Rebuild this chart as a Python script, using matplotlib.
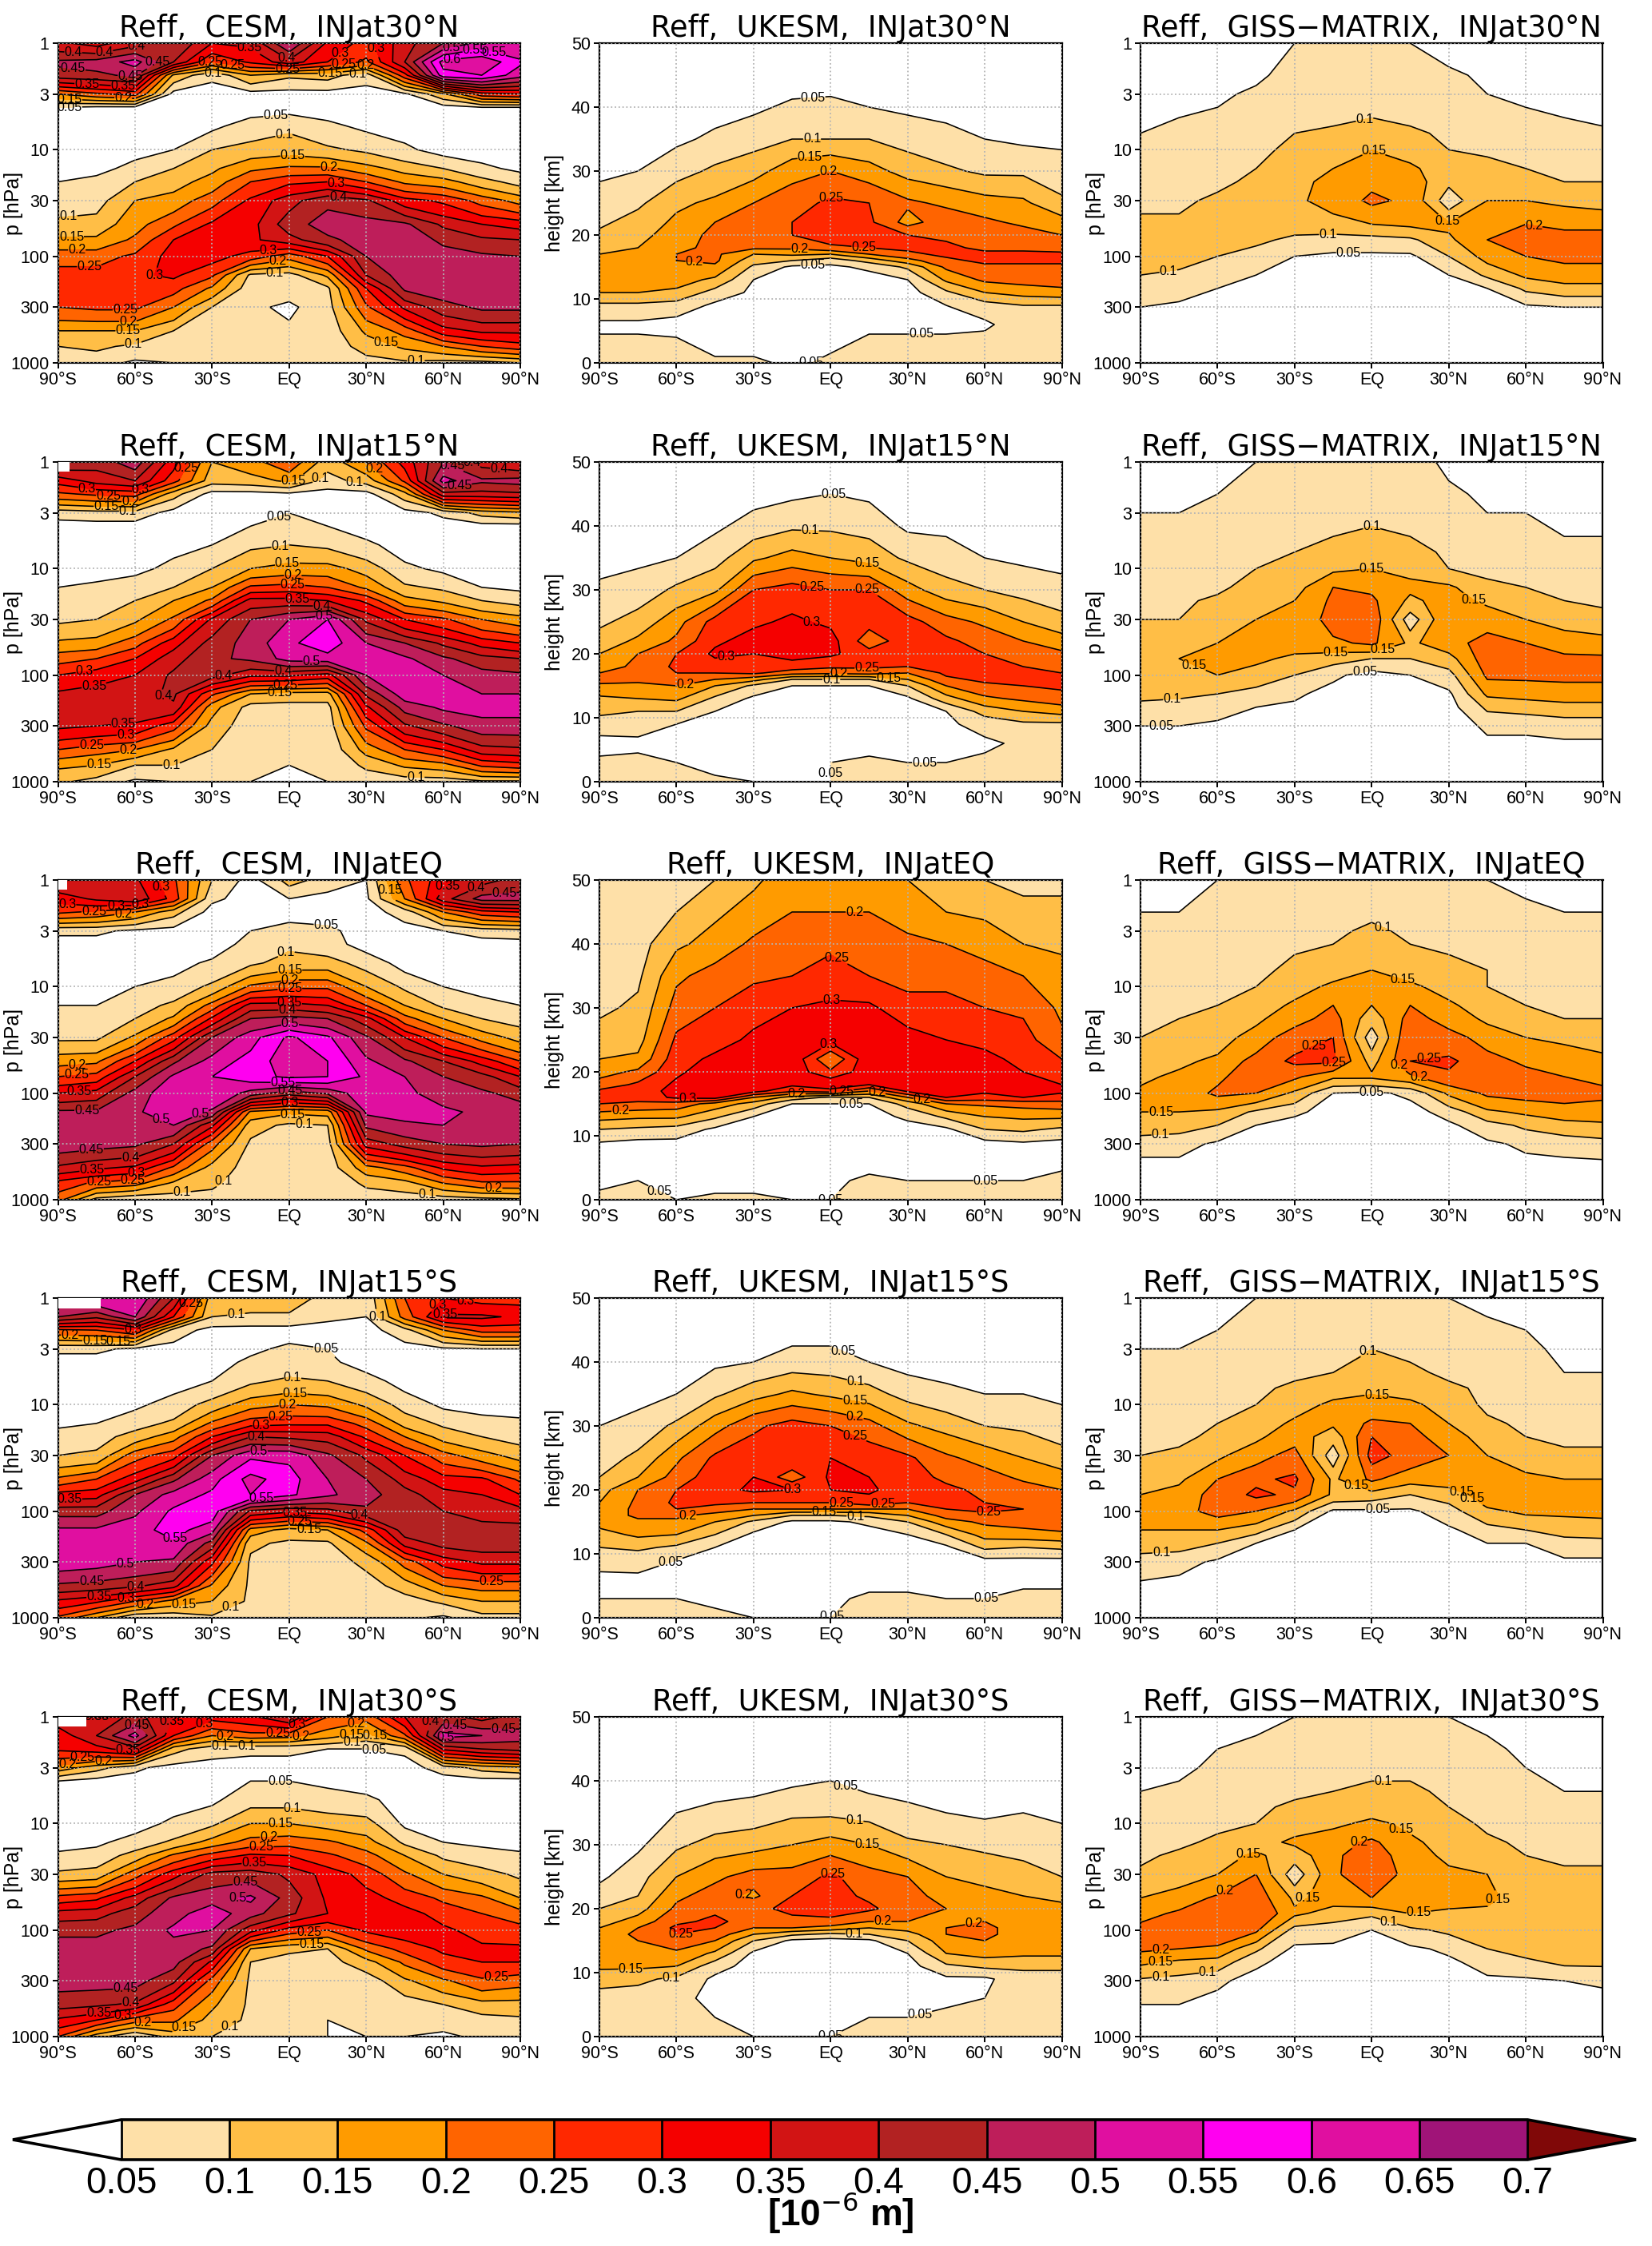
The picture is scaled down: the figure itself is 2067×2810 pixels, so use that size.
# -*- coding: utf-8 -*-
# zonal mean effective radius, 3 models x 5 injection latitudes
import numpy as np
import matplotlib
matplotlib.use('Agg')
import matplotlib.pyplot as plt
from matplotlib.colors import ListedColormap, BoundaryNorm
from matplotlib.patches import Rectangle

plt.rcParams['font.family'] = ['Liberation Sans', 'DejaVu Sans']

#%% axes values
lats = [-90, -75, -60, -45, -30, -15, 0, 15, 30, 45, 60, 75, 90]
p_cesm = [1, 1.5, 2, 3, 4, 6, 10, 15, 20, 30, 50, 70, 100, 150, 200, 300, 500, 700, 1000]
p_giss = [1, 2, 3, 5, 7, 10, 15, 20, 30, 50, 70, 100, 150, 200, 300, 500, 1000]
z_ukesm = [0, 3, 6, 9, 11, 13, 15, 16, 17, 18, 20, 22, 25, 30, 35, 40, 45, 50]

levels = [0.05, 0.1, 0.15, 0.2, 0.25, 0.3, 0.35, 0.4, 0.45, 0.5, 0.55, 0.6, 0.65, 0.7]
colors = ['#FEE0A8', '#FFBE46', '#FF9B00', '#FF6400', '#FF2800', '#F50000', '#D21414',
          '#B22222', '#BE1E5A', '#E00FA0', '#FF00F0', '#E00FA0', '#A01478']
injections = ['30°N', '15°N', 'EQ', '15°S', '30°S']
lat_ticks = [-90, -60, -30, 0, 30, 60, 90]
lat_labels = ['90°S', '60°S', '30°S', 'EQ', '30°N', '60°N', '90°N']
p_ticks = [1, 3, 10, 30, 100, 300, 1000]
z_ticks = [0, 10, 20, 30, 40, 50]

#%% Reff, one line per latitude, in 0.01 x 10^-6 m
cesm_30n = [
    [36, 46, 43, 20, 5, 3, 3, 4, 5, 8, 11, 16, 23, 27, 27, 25, 15, 10, 7],
    [33, 47, 44, 24, 4, 2, 3, 4, 6, 8, 12, 16, 23, 27, 28, 26, 15, 11, 7],
    [38, 52, 46, 27, 4, 3, 4, 6, 10, 15, 18, 21, 26, 29, 29, 26, 15, 9, 4],
    [45, 40, 14, 3, 2, 3, 5, 10, 13, 17, 24, 30, 32, 31, 27, 20, 10, 7, 5],
    [35, 25, 6, 3, 2, 4, 10, 14, 17, 23, 31, 33, 32, 26, 19, 10, 7, 6, 6],
    [36, 31, 15, 3, 3, 7, 12, 19, 25, 31, 33, 34, 28, 9, 7, 6, 6, 6, 5],
    [50, 38, 11, 3, 3, 9, 13, 21, 29, 38, 43, 38, 22, 8, 7, 4, 6, 6, 5],
    [34, 30, 12, 3, 3, 6, 11, 21, 30, 44, 47, 44, 30, 16, 9, 8, 7, 7, 6],
    [28, 24, 7, 3, 3, 4, 9, 17, 25, 41, 47, 47, 45, 40, 30, 24, 16, 12, 8],
    [38, 40, 28, 4, 3, 3, 6, 13, 19, 32, 46, 48, 48, 48, 46, 36, 22, 16, 9],
    [45, 62, 58, 14, 3, 3, 3, 10, 17, 29, 39, 44, 47, 48, 48, 43, 33, 20, 8],
    [52, 64, 60, 28, 5, 3, 3, 6, 12, 23, 35, 41, 46, 48, 48, 46, 36, 25, 8],
    [50, 56, 52, 30, 5, 3, 3, 4, 8, 18, 33, 40, 45, 48, 48, 46, 36, 28, 10],
]
cesm_15n = [
    [45, 32, 24, 7, 3, 3, 3, 5, 7, 9, 16, 23, 30, 36, 37, 36, 25, 16, 11],
    [42, 37, 26, 8, 3, 3, 3, 6, 8, 10, 17, 25, 33, 37, 38, 35, 22, 15, 8],
    [48, 40, 27, 8, 3, 3, 4, 7, 10, 14, 23, 30, 35, 38, 39, 34, 20, 10, 4],
    [32, 27, 12, 3, 3, 4, 6, 10, 15, 21, 33, 38, 41, 41, 39, 27, 14, 10, 5],
    [15, 12, 3, 2, 2, 5, 10, 15, 21, 36, 42, 44, 42, 26, 17, 13, 10, 8, 6],
    [18, 13, 3, 3, 5, 9, 15, 26, 37, 45, 47, 46, 36, 15, 8, 7, 6, 6, 5],
    [24, 16, 4, 5, 6, 10, 17, 27, 37, 50, 54, 52, 36, 13, 8, 7, 6, 5, 5],
    [12, 8, 3, 2, 5, 9, 17, 25, 35, 55, 58, 53, 33, 13, 8, 7, 6, 6, 5],
    [20, 12, 3, 2, 3, 6, 13, 19, 29, 39, 50, 52, 50, 41, 34, 26, 17, 11, 7],
    [32, 26, 13, 3, 3, 3, 6, 11, 17, 30, 45, 51, 52, 53, 47, 39, 25, 16, 7],
    [45, 52, 38, 6, 3, 3, 4, 9, 14, 26, 39, 46, 50, 52, 51, 44, 30, 18, 7],
    [38, 46, 38, 12, 3, 3, 3, 5, 10, 20, 33, 42, 47, 50, 52, 48, 38, 26, 9],
    [35, 47, 39, 14, 3, 3, 3, 4, 8, 17, 30, 40, 46, 50, 52, 48, 39, 28, 9],
]
cesm_eq = [
    [40, 32, 26, 6, 3, 3, 3, 5, 7, 9, 18, 25, 35, 46, 48, 48, 39, 28, 22],
    [38, 36, 24, 6, 3, 3, 3, 5, 7, 9, 19, 27, 37, 46, 48, 47, 36, 24, 8],
    [36, 39, 20, 4, 3, 3, 5, 8, 10, 16, 30, 40, 47, 49, 49, 46, 34, 22, 5],
    [26, 28, 12, 3, 3, 3, 7, 11, 16, 28, 44, 51, 54, 54, 50, 40, 24, 14, 7],
    [10, 6, 3, 2, 2, 6, 11, 22, 31, 45, 52, 55, 55, 49, 36, 22, 13, 11, 8],
    [3, 3, 3, 5, 7, 9, 21, 37, 45, 53, 57, 58, 48, 19, 12, 9, 8, 7, 6],
    [12, 5, 3, 7, 9, 12, 24, 37, 47, 61, 63, 61, 42, 16, 9, 8, 7, 7, 6],
    [8, 3, 3, 6, 7, 12, 24, 35, 45, 56, 60, 60, 46, 17, 10, 8, 7, 6, 5],
    [5, 4, 3, 3, 3, 8, 15, 25, 37, 46, 51, 54, 54, 51, 46, 37, 18, 11, 7],
    [24, 20, 7, 3, 3, 3, 9, 15, 22, 35, 46, 50, 51, 52, 49, 42, 23, 13, 7],
    [33, 38, 20, 5, 3, 3, 5, 9, 15, 25, 40, 45, 48, 51, 50, 45, 31, 20, 7],
    [38, 47, 28, 7, 3, 3, 4, 6, 10, 18, 33, 42, 46, 49, 50, 46, 34, 24, 8],
    [42, 47, 30, 8, 3, 3, 3, 5, 8, 13, 25, 35, 43, 48, 50, 45, 33, 24, 9],
]
cesm_15s = [
    [50, 45, 24, 6, 3, 3, 3, 4, 7, 10, 21, 32, 43, 51, 53, 53, 44, 34, 24],
    [55, 41, 25, 6, 3, 3, 3, 5, 8, 11, 25, 33, 43, 51, 53, 52, 43, 31, 15],
    [55, 50, 30, 4, 3, 3, 4, 8, 12, 23, 33, 45, 49, 53, 54, 50, 41, 25, 5],
    [40, 30, 8, 3, 3, 3, 7, 11, 18, 28, 44, 52, 56, 57, 54, 49, 37, 18, 6],
    [12, 10, 3, 2, 3, 5, 12, 21, 30, 45, 53, 56, 58, 52, 43, 31, 19, 15, 9],
    [13, 9, 3, 4, 6, 9, 18, 28, 40, 54, 62, 60, 39, 18, 11, 9, 9, 9, 7],
    [13, 9, 3, 6, 7, 11, 20, 29, 39, 54, 57, 56, 36, 13, 9, 8, 7, 7, 6],
    [8, 6, 3, 5, 6, 10, 19, 29, 38, 46, 50, 51, 38, 15, 9, 8, 7, 6, 5],
    [6, 5, 3, 3, 3, 7, 14, 23, 29, 39, 45, 47, 44, 27, 19, 11, 8, 7, 6],
    [25, 22, 8, 3, 3, 3, 8, 13, 20, 30, 38, 42, 43, 43, 37, 22, 12, 8, 6],
    [30, 36, 20, 4, 3, 3, 4, 9, 13, 22, 32, 37, 40, 43, 42, 32, 20, 11, 4],
    [28, 36, 27, 5, 3, 3, 3, 7, 10, 17, 31, 35, 38, 42, 43, 36, 22, 15, 8],
    [28, 34, 27, 5, 3, 3, 3, 6, 8, 13, 24, 30, 37, 42, 43, 36, 22, 15, 8],
]
cesm_30s = [
    [38, 32, 31, 18, 5, 3, 3, 3, 6, 11, 27, 37, 44, 47, 47, 47, 42, 34, 25],
    [35, 40, 33, 12, 3, 3, 3, 4, 7, 12, 29, 38, 44, 47, 47, 47, 41, 30, 12],
    [42, 52, 38, 6, 3, 3, 3, 7, 12, 23, 37, 43, 46, 47, 47, 47, 39, 22, 5],
    [35, 30, 12, 3, 3, 3, 6, 11, 21, 33, 46, 48, 51, 48, 47, 41, 27, 21, 12],
    [32, 20, 7, 3, 3, 4, 9, 17, 27, 42, 48, 53, 50, 44, 34, 23, 16, 13, 10],
    [34, 23, 6, 3, 5, 8, 15, 22, 31, 43, 51, 47, 37, 15, 10, 9, 9, 9, 7],
    [40, 22, 6, 3, 5, 8, 15, 23, 30, 39, 43, 41, 28, 11, 8, 7, 7, 6, 6],
    [25, 17, 5, 3, 4, 7, 13, 21, 26, 33, 34, 35, 25, 10, 8, 7, 6, 5, 5],
    [22, 13, 5, 3, 3, 6, 12, 17, 22, 28, 32, 33, 31, 21, 13, 7, 6, 6, 5],
    [35, 24, 6, 3, 3, 3, 4, 9, 15, 21, 28, 32, 33, 27, 21, 14, 7, 6, 5],
    [42, 52, 36, 7, 3, 3, 3, 5, 9, 15, 24, 28, 31, 31, 28, 19, 10, 7, 4],
    [38, 50, 40, 12, 3, 3, 3, 4, 7, 12, 21, 25, 28, 31, 30, 24, 13, 8, 6],
    [42, 47, 42, 14, 3, 3, 3, 3, 6, 9, 15, 22, 27, 31, 30, 22, 13, 9, 8],
]

ukesm_30n = [
    [7, 6, 4, 9, 15, 17, 17, 17, 15, 14, 11, 9, 7, 4, 3, 2, 2, 2],
    [8, 6, 4, 9, 15, 17, 18, 18, 17, 15, 13, 12, 9, 5, 3, 2, 2, 2],
    [7, 6, 3, 8, 14, 17, 19, 20, 20, 19, 18, 16, 14, 8, 4, 3, 2, 2],
    [6, 3, 3, 4, 8, 14, 19, 21, 21, 21, 21, 20, 16, 11, 6, 3, 2, 2],
    [6, 3, 3, 3, 4, 5, 9, 12, 15, 21, 22, 23, 20, 13, 8, 4, 2, 2],
    [4, 3, 3, 3, 3, 3, 4, 10, 16, 21, 25, 25, 23, 18, 10, 6, 2, 2],
    [6, 4, 3, 3, 3, 3, 4, 7, 15, 24, 28, 28, 26, 20, 10, 6, 3, 2],
    [8, 6, 4, 3, 3, 3, 6, 12, 20, 25, 27, 26, 25, 17, 10, 5, 3, 2],
    [8, 6, 4, 3, 3, 5, 11, 18, 24, 26, 25, 18, 21, 13, 8, 4, 2, 2],
    [8, 6, 4, 5, 9, 16, 21, 24, 26, 26, 24, 23, 19, 11, 6, 4, 3, 2],
    [8, 7, 4, 8, 15, 21, 24, 26, 26, 24, 23, 21, 17, 9, 5, 3, 2, 2],
    [8, 8, 8, 10, 17, 22, 24, 26, 26, 24, 22, 19, 16, 9, 4, 3, 2, 2],
    [8, 8, 8, 10, 18, 23, 24, 26, 26, 23, 20, 17, 11, 7, 4, 3, 2, 2],
]
ukesm_15n = [
    [7, 6, 3, 8, 11, 14, 19, 22, 20, 18, 15, 12, 9, 6, 3, 2, 2, 2],
    [7, 6, 4, 7, 10, 15, 19, 21, 21, 21, 20, 16, 12, 7, 4, 2, 2, 2],
    [6, 5, 3, 5, 10, 16, 20, 22, 25, 26, 25, 21, 18, 11, 5, 3, 2, 2],
    [6, 3, 3, 3, 5, 9, 15, 20, 25, 28, 31, 29, 27, 14, 8, 4, 2, 2],
    [5, 3, 3, 3, 3, 4, 9, 17, 26, 28, 30, 32, 29, 25, 14, 7, 3, 2],
    [4, 3, 3, 3, 3, 3, 5, 10, 22, 28, 32, 33, 31, 27, 17, 9, 4, 2],
    [5, 5, 3, 3, 3, 3, 5, 10, 21, 26, 31, 32, 29, 25, 15, 9, 5, 3],
    [7, 6, 3, 3, 3, 3, 5, 10, 22, 26, 27, 22, 27, 25, 13, 8, 4, 2],
    [7, 5, 4, 3, 3, 4, 10, 15, 20, 25, 28, 28, 27, 17, 9, 4, 2, 2],
    [7, 5, 4, 4, 5, 13, 20, 24, 26, 27, 27, 26, 22, 12, 7, 4, 2, 2],
    [7, 6, 4, 7, 12, 19, 24, 26, 27, 27, 25, 23, 19, 10, 5, 3, 2, 2],
    [7, 7, 6, 9, 15, 21, 25, 26, 26, 25, 23, 20, 15, 8, 4, 3, 2, 2],
    [7, 7, 7, 9, 17, 23, 26, 26, 25, 23, 21, 17, 12, 6, 4, 3, 2, 2],
]
ukesm_eq = [
    [6, 4, 3, 5, 10, 17, 25, 27, 26, 22, 18, 15, 12, 9, 8, 7, 6, 6],
    [7, 5, 3, 4, 9, 16, 24, 27, 27, 26, 21, 16, 13, 11, 9, 8, 7, 6],
    [5, 5, 3, 4, 8, 16, 23, 31, 32, 31, 29, 28, 26, 22, 19, 14, 10, 7],
    [6, 3, 3, 3, 4, 11, 18, 32, 33, 33, 33, 31, 28, 25, 22, 17, 14, 10],
    [6, 3, 3, 3, 3, 5, 13, 20, 32, 33, 34, 33, 31, 28, 24, 21, 17, 14],
    [5, 3, 3, 3, 3, 3, 5, 13, 26, 31, 33, 34, 33, 30, 25, 23, 20, 18],
    [5, 4, 3, 3, 3, 3, 5, 9, 28, 34, 26, 20, 32, 31, 27, 24, 20, 18],
    [7, 6, 3, 3, 3, 3, 5, 10, 20, 30, 33, 34, 33, 31, 25, 22, 20, 16],
    [7, 5, 3, 3, 3, 6, 12, 20, 31, 33, 34, 33, 32, 27, 23, 21, 18, 15],
    [7, 5, 3, 3, 4, 11, 20, 30, 33, 33, 34, 33, 30, 26, 24, 20, 15, 12],
    [7, 5, 3, 4, 10, 15, 21, 28, 31, 32, 33, 31, 29, 25, 22, 18, 14, 10],
    [7, 5, 4, 5, 11, 16, 22, 30, 31, 32, 30, 29, 27, 24, 20, 15, 11, 9],
    [8, 6, 4, 4, 9, 16, 23, 28, 31, 30, 27, 25, 21, 19, 17, 14, 11, 9],
]
ukesm_15s = [
    [7, 5, 3, 8, 10, 13, 17, 17, 17, 15, 13, 10, 8, 5, 3, 2, 2, 2],
    [7, 5, 4, 7, 11, 16, 19, 21, 21, 21, 20, 15, 11, 7, 3, 2, 2, 2],
    [7, 5, 3, 5, 9, 15, 19, 21, 25, 26, 25, 22, 19, 11, 5, 3, 2, 2],
    [6, 4, 3, 3, 5, 10, 15, 18, 23, 26, 28, 28, 26, 18, 9, 4, 2, 2],
    [5, 3, 3, 3, 3, 4, 9, 15, 20, 25, 31, 30, 28, 24, 13, 5, 3, 2],
    [4, 3, 3, 3, 3, 3, 4, 10, 20, 25, 30, 22, 30, 27, 16, 7, 3, 2],
    [5, 4, 3, 3, 3, 3, 4, 10, 20, 25, 30, 31, 30, 25, 14, 7, 3, 2],
    [7, 6, 3, 3, 3, 3, 6, 11, 20, 28, 31, 30, 28, 22, 12, 5, 3, 2],
    [7, 6, 3, 3, 3, 5, 10, 15, 20, 25, 27, 27, 26, 16, 8, 3, 2, 2],
    [7, 5, 3, 3, 4, 10, 18, 22, 25, 26, 26, 24, 21, 13, 6, 3, 2, 2],
    [7, 5, 3, 4, 11, 17, 21, 24, 26, 25, 24, 22, 18, 10, 5, 3, 2, 2],
    [8, 6, 4, 4, 10, 18, 22, 24, 25, 24, 22, 19, 15, 9, 5, 3, 2, 2],
    [8, 6, 4, 4, 11, 19, 23, 24, 24, 23, 20, 17, 12, 7, 4, 3, 2, 2],
]
ukesm_30s = [
    [8, 8, 8, 12, 16, 17, 18, 17, 15, 13, 10, 7, 4, 3, 2, 2, 2, 2],
    [8, 8, 8, 11, 16, 18, 20, 21, 20, 17, 13, 10, 8, 4, 3, 2, 2, 2],
    [8, 7, 6, 9, 15, 19, 23, 25, 26, 24, 21, 19, 15, 9, 5, 3, 2, 2],
    [6, 5, 4, 4, 7, 14, 20, 23, 25, 26, 24, 22, 19, 12, 6, 3, 2, 2],
    [5, 3, 3, 3, 3, 4, 10, 15, 20, 23, 24, 19, 22, 13, 7, 3, 2, 2],
    [5, 3, 3, 3, 3, 3, 4, 11, 20, 24, 26, 25, 22, 15, 9, 4, 2, 2],
    [5, 3, 3, 3, 3, 3, 3, 9, 18, 24, 27, 27, 26, 17, 9, 5, 2, 2],
    [6, 5, 3, 3, 3, 3, 4, 10, 15, 20, 26, 24, 22, 15, 8, 3, 2, 2],
    [6, 5, 3, 3, 3, 5, 10, 13, 17, 20, 22, 22, 20, 11, 6, 3, 2, 2],
    [6, 6, 4, 4, 9, 15, 18, 20, 20, 20, 20, 18, 15, 10, 5, 3, 2, 2],
    [7, 6, 5, 4, 11, 17, 20, 21, 21, 20, 18, 17, 13, 9, 4, 3, 2, 2],
    [7, 7, 7, 8, 11, 16, 18, 18, 18, 18, 17, 15, 12, 8, 5, 3, 2, 2],
    [8, 8, 8, 8, 11, 16, 17, 17, 17, 17, 16, 14, 10, 7, 4, 3, 2, 2],
]

giss_30n = [
    [2, 3, 3, 4, 5, 6, 8, 8, 9, 11, 12, 12, 10, 8, 5, 2, 1],
    [2, 3, 4, 5, 6, 7, 8, 9, 9, 11, 12, 12, 9, 7, 4, 2, 1],
    [3, 4, 4, 6, 7, 8, 8, 9, 11, 12, 12, 10, 7, 5, 3, 2, 1],
    [3, 4, 6, 7, 8, 9, 10, 11, 12, 13, 11, 8, 5, 4, 3, 2, 1],
    [5, 7, 8, 9, 10, 11, 13, 14, 14, 12, 9, 5, 3, 2, 2, 2, 1],
    [6, 7, 8, 9, 11, 13, 15, 16, 17, 13, 8, 4, 3, 2, 2, 2, 1],
    [7, 8, 9, 10, 12, 15, 17, 19, 21, 15, 8, 4, 3, 2, 2, 2, 1],
    [5, 7, 8, 9, 11, 13, 16, 18, 19, 16, 9, 4, 3, 2, 2, 2, 1],
    [3, 6, 7, 8, 9, 10, 12, 11, 7, 16, 14, 10, 5, 3, 2, 2, 1],
    [3, 4, 5, 7, 8, 9, 12, 13, 15, 18, 20, 17, 11, 5, 3, 2, 1],
    [2, 3, 4, 6, 7, 8, 10, 12, 15, 20, 23, 20, 16, 11, 4, 2, 1],
    [2, 3, 3, 5, 6, 7, 9, 10, 14, 19, 22, 21, 18, 13, 5, 2, 1],
    [2, 3, 3, 4, 6, 7, 8, 10, 13, 19, 22, 21, 18, 13, 5, 2, 1],
]
giss_15n = [
    [3, 4, 5, 6, 6, 7, 8, 9, 10, 12, 14, 14, 11, 9, 5, 3, 1],
    [3, 4, 5, 6, 6, 7, 8, 9, 10, 13, 15, 15, 11, 8, 5, 3, 1],
    [4, 5, 6, 7, 7, 8, 9, 11, 13, 15, 16, 15, 10, 7, 4, 2, 1],
    [5, 6, 7, 8, 9, 10, 12, 14, 15, 17, 16, 13, 8, 5, 3, 2, 1],
    [6, 7, 8, 9, 10, 11, 13, 15, 16, 17, 14, 10, 6, 4, 3, 2, 1],
    [7, 8, 9, 10, 12, 14, 20, 21, 22, 19, 12, 6, 3, 2, 2, 2, 1],
    [8, 9, 9, 11, 13, 15, 19, 21, 24, 21, 10, 3, 2, 2, 2, 2, 1],
    [7, 8, 9, 10, 12, 14, 16, 14, 7, 14, 10, 5, 3, 2, 2, 2, 1],
    [4, 6, 7, 8, 9, 10, 16, 17, 20, 18, 13, 8, 4, 3, 2, 2, 1],
    [3, 4, 5, 7, 8, 9, 11, 14, 18, 22, 23, 21, 16, 11, 6, 3, 1],
    [3, 4, 5, 6, 7, 8, 10, 12, 15, 20, 22, 21, 17, 12, 6, 3, 1],
    [2, 3, 4, 5, 6, 7, 9, 10, 13, 18, 21, 21, 18, 13, 7, 3, 1],
    [2, 3, 3, 5, 6, 7, 8, 9, 12, 17, 21, 21, 18, 13, 7, 3, 1],
]
giss_eq = [
    [4, 5, 6, 7, 7, 8, 9, 9, 10, 13, 14, 16, 15, 13, 7, 3, 1],
    [4, 5, 6, 7, 8, 8, 9, 10, 11, 14, 16, 17, 15, 12, 7, 3, 1],
    [5, 6, 7, 8, 8, 9, 10, 11, 13, 16, 19, 21, 14, 10, 4, 2, 1],
    [5, 7, 8, 9, 9, 10, 12, 14, 17, 22, 23, 20, 9, 5, 3, 2, 1],
    [7, 8, 9, 10, 11, 13, 16, 18, 23, 26, 21, 14, 6, 3, 2, 2, 1],
    [8, 9, 9, 11, 13, 16, 20, 22, 25, 26, 16, 5, 3, 2, 2, 2, 1],
    [9, 9, 11, 13, 15, 18, 15, 12, 7, 13, 16, 4, 3, 2, 2, 2, 1],
    [8, 9, 9, 11, 13, 16, 20, 22, 25, 25, 19, 6, 3, 2, 2, 2, 1],
    [7, 8, 9, 10, 11, 13, 16, 18, 22, 26, 24, 16, 7, 4, 2, 2, 1],
    [5, 6, 7, 9, 10, 10, 12, 14, 18, 22, 23, 21, 14, 8, 4, 2, 1],
    [4, 6, 7, 8, 9, 9, 10, 12, 15, 19, 22, 22, 16, 11, 6, 3, 1],
    [4, 5, 6, 7, 7, 8, 9, 10, 14, 18, 20, 22, 18, 13, 7, 3, 1],
    [4, 5, 6, 7, 7, 7, 9, 10, 12, 17, 19, 21, 18, 14, 8, 3, 1],
]
giss_15s = [
    [3, 4, 5, 6, 7, 7, 8, 9, 10, 13, 15, 16, 15, 12, 8, 4, 1],
    [3, 4, 5, 6, 7, 8, 9, 9, 11, 14, 17, 18, 15, 12, 7, 3, 1],
    [4, 5, 6, 8, 8, 9, 10, 11, 14, 20, 22, 22, 15, 10, 4, 2, 1],
    [5, 6, 7, 9, 9, 10, 12, 14, 18, 24, 26, 20, 12, 5, 3, 2, 1],
    [6, 7, 8, 9, 11, 13, 16, 18, 22, 26, 24, 14, 5, 3, 2, 2, 1],
    [8, 9, 9, 10, 13, 16, 16, 12, 7, 14, 14, 4, 3, 2, 2, 2, 1],
    [9, 9, 10, 12, 14, 17, 21, 25, 27, 21, 13, 4, 3, 2, 2, 2, 1],
    [8, 9, 9, 11, 13, 16, 20, 22, 23, 17, 10, 4, 3, 2, 2, 2, 1],
    [5, 7, 8, 9, 11, 13, 15, 17, 20, 18, 12, 8, 4, 3, 2, 2, 1],
    [4, 6, 7, 8, 9, 9, 11, 13, 15, 18, 18, 14, 8, 5, 3, 2, 1],
    [4, 5, 6, 7, 7, 8, 9, 10, 13, 16, 17, 16, 10, 5, 3, 2, 1],
    [3, 4, 4, 5, 6, 7, 8, 9, 11, 15, 17, 16, 12, 8, 4, 2, 1],
    [2, 3, 4, 5, 6, 7, 8, 9, 11, 15, 17, 16, 13, 8, 4, 2, 1],
]
giss_30s = [
    [2, 3, 4, 5, 6, 7, 8, 9, 11, 15, 18, 22, 21, 16, 9, 5, 1],
    [3, 4, 4, 6, 6, 7, 9, 11, 13, 17, 21, 23, 20, 14, 8, 5, 1],
    [4, 5, 6, 7, 8, 9, 11, 13, 15, 21, 23, 24, 19, 13, 6, 3, 1],
    [4, 6, 7, 8, 9, 10, 13, 16, 20, 23, 25, 21, 11, 6, 3, 2, 1],
    [5, 7, 8, 9, 11, 13, 16, 12, 7, 14, 16, 8, 4, 3, 2, 2, 1],
    [6, 8, 9, 10, 12, 14, 18, 19, 19, 17, 13, 7, 4, 3, 2, 2, 1],
    [7, 9, 9, 11, 13, 16, 21, 23, 24, 20, 11, 5, 3, 2, 2, 2, 1],
    [7, 8, 9, 11, 12, 14, 16, 17, 18, 17, 15, 9, 4, 3, 2, 2, 1],
    [5, 7, 8, 9, 10, 12, 13, 14, 16, 17, 14, 11, 6, 4, 2, 2, 1],
    [4, 6, 7, 8, 9, 9, 11, 13, 15, 16, 14, 12, 10, 7, 4, 2, 1],
    [3, 4, 5, 7, 8, 8, 9, 10, 12, 13, 13, 13, 12, 9, 4, 2, 1],
    [3, 4, 5, 5, 6, 7, 8, 9, 11, 13, 13, 13, 12, 11, 5, 2, 1],
    [2, 3, 4, 5, 6, 7, 8, 9, 11, 13, 13, 13, 12, 11, 6, 2, 1],
]

# white patches with no data in the top left corner of the CESM panels: lat edge, p edge
cesm_corner = [None, (-85.4, 1.24), (-86.4, 1.24), (-73.2, 1.25), (-78.8, 1.23)]

#%% where the contour labels sit, offset from the panel's top left corner on a 1296 x 1200 grid
spots_cesm = [
    [(43, 28), (128, 21), (223, 21), (293, 28), (536, 23), (780, 18), (888, 21), (1103, 21), (1168, 21),
     (1223, 28), (43, 88), (1106, 81), (203, 116), (428, 78), (488, 86), (638, 63), (800, 73), (863, 81),
     (643, 100), (763, 106), (433, 125), (841, 125), (81, 158), (183, 158), (183, 203), (33, 213), (33, 248),
     (610, 273), (636, 358), (658, 418), (760, 463), (780, 520), (786, 570), (31, 668), (38, 728), (53, 776),
     (88, 825), (590, 776), (616, 813), (608, 863), (258, 906), (188, 983), (196, 1020), (196, 1053),
     (208, 1101), (916, 1133), (1003, 1181)],
    [(353, 18), (888, 24), (1100, 28), (1156, 18), (1236, 26), (658, 61), (746, 78), (833, 66), (1126, 98),
     (81, 106), (231, 101), (141, 124), (203, 141), (135, 171), (196, 186), (623, 223), (623, 316), (643, 383),
     (658, 429), (658, 464), (671, 514), (740, 534), (746, 571), (711, 728), (461, 783), (631, 791), (638, 831),
     (623, 884), (75, 793), (101, 839), (285, 904), (183, 984), (190, 1019), (95, 1073), (196, 1076),
     (115, 1133), (318, 1144), (1003, 1176)],
    [(291, 26), (936, 36), (1093, 26), (1170, 20), (1250, 33), (26, 100), (163, 90), (230, 90), (101, 128),
     (183, 128), (753, 146), (643, 283), (650, 328), (650, 370), (650, 413), (650, 450), (643, 495), (650, 546),
     (53, 701), (53, 735), (60, 795), (81, 863), (631, 753), (650, 793), (650, 836), (658, 873), (690, 908),
     (386, 836), (278, 933), (95, 1028), (203, 1043), (95, 1088), (218, 1091), (115, 1136), (210, 1135),
     (346, 1153), (488, 1158), (1036, 1168), (1221, 1155)],
    [(373, 19), (1058, 19), (1141, 27), (1086, 62), (501, 80), (888, 77), (210, 119), (33, 137), (103, 157),
     (168, 162), (753, 165), (658, 289), (665, 347), (643, 397), (623, 440), (570, 477), (556, 525), (563, 562),
     (33, 747), (570, 747), (665, 804), (848, 799), (678, 840), (703, 887), (325, 895), (190, 1014),
     (1215, 1062), (95, 1075), (218, 1080), (115, 1125), (190, 1122), (245, 1150), (353, 1164), (488, 1172)],
    [(121, 19), (231, 19), (338, 28), (408, 19), (835, 19), (1048, 19), (1113, 19), (1248, 34), (671, 31),
     (616, 56), (821, 54), (680, 73), (468, 76), (888, 71), (823, 89), (455, 111), (528, 126), (888, 114),
     (1086, 76), (196, 129), (68, 149), (128, 159), (26, 183), (623, 246), (658, 338), (623, 399), (590, 444),
     (570, 483), (550, 544), (523, 608), (503, 686), (705, 819), (711, 864), (1228, 973), (190, 1026),
     (203, 1071), (115, 1121), (183, 1124), (238, 1154), (353, 1166), (488, 1179)],
]
spots_ukesm = [
    [(598, 196), (596, 351), (590, 430), (643, 490), (651, 573), (265, 835), (741, 768), (561, 783), (598, 823),
     (903, 1125), (561, 1180)],
    [(654, 139), (590, 279), (750, 386), (750, 461), (590, 509), (598, 589), (357, 755), (750, 755), (241, 830),
     (670, 793), (810, 814), (650, 825), (911, 1125), (590, 1168)],
    [(715, 109), (660, 305), (651, 444), (643, 620), (678, 787), (778, 792), (553, 804), (705, 829), (903, 832),
     (248, 820), (58, 862), (183, 1129), (1083, 1122), (606, 1172)],
    [(678, 214), (714, 337), (714, 402), (714, 461), (714, 525), (542, 729), (678, 761), (249, 825), (794, 771),
     (1091, 804), (630, 804), (718, 814), (201, 997), (630, 1168), (1083, 1120)],
    [(690, 262), (714, 402), (750, 477), (650, 600), (393, 638), (229, 820), (794, 777), (1051, 788), (714, 815),
     (88, 959), (201, 980), (562, 1168), (903, 1141)],
]
spots_giss = [
    [(625, 266), (655, 396), (858, 673), (1103, 678), (525, 703), (583, 756), (78, 856)],
    [(648, 230), (648, 391), (899, 579), (150, 766), (547, 734), (680, 712), (628, 777), (89, 911), (57, 975)],
    [(680, 177), (745, 327), (494, 648), (806, 637), (547, 696), (725, 696), (786, 718), (648, 787), (57, 884),
     (57, 996)],
    [(648, 220), (664, 348), (608, 696), (907, 702), (899, 739), (664, 782), (57, 916)],
    [(680, 252), (749, 375), (608, 461), (308, 536), (478, 702), (235, 648), (778, 718), (1000, 680), (697, 761),
     (57, 873), (57, 937), (57, 975), (190, 980)],
]

#%% layout in pixels
W, H = 2067, 2810
COL_LEFT = [72.5, 750, 1427]
COL_WIDTH = 578.5
ROW_TOP = [54, 578, 1101, 1624, 2148]
ROW_HEIGHT = 400

cmap = ListedColormap(colors)
cmap.set_under('white')
cmap.set_over('#800808')
norm = BoundaryNorm(levels, cmap.N)


def plot_panel(ax, y, data, title, spots, is_height=False):
    z = np.array(data).T / 100.
    cf = ax.contourf(lats, y, z, levels=levels, cmap=cmap, norm=norm, extend='both')
    cs = ax.contour(lats, y, z, levels=levels, colors='black', linewidths=1.15)

    ax.set_xlim(-90, 90)
    ax.set_xticks(lat_ticks)
    ax.set_xticklabels(lat_labels)
    if is_height:
        ax.set_ylim(0, 50)
        ax.set_yticks(z_ticks)
        ax.set_ylabel('height [km]', fontsize=18)
    else:
        ax.set_yscale('log')
        ax.set_ylim(1000, 1)
        ax.set_yticks(p_ticks)
        ax.set_yticklabels([str(p) for p in p_ticks])
        ax.minorticks_off()
        ax.set_ylabel('p [hPa]', fontsize=18)
    ax.yaxis.set_label_coords(-0.076, 0.5)
    ax.tick_params(labelsize=15.5, width=1.4, length=5, pad=3)
    ax.set_axisbelow(False)
    ax.grid(True, color='#b4b4b4', linestyle=':', linewidth=1.3)
    for s in ax.spines.values():
        s.set_linewidth(1.6)
    ax.set_title(title, fontsize=26.5, family=['DejaVu Sans'], pad=6)

    # labels go where the reference has them, the axes must be final before this
    to_data = ax.transData.inverted()
    manual = [to_data.transform(ax.transAxes.transform((sx / 1296., 1 - sy / 1200.))) for sx, sy in spots]
    labels = ax.clabel(cs, fmt='%g', fontsize=11.5, inline=True, inline_spacing=0, manual=manual)
    for t in labels:
        t.set_rotation(0)
    return cf


#%% figure
fig = plt.figure(figsize=(W / 100., H / 100.), dpi=100)
models = [('CESM', p_cesm, [cesm_30n, cesm_15n, cesm_eq, cesm_15s, cesm_30s], spots_cesm, False),
          ('UKESM', z_ukesm, [ukesm_30n, ukesm_15n, ukesm_eq, ukesm_15s, ukesm_30s], spots_ukesm, True),
          ('GISS−MATRIX', p_giss, [giss_30n, giss_15n, giss_eq, giss_15s, giss_30s], spots_giss, False)]

for col, (name, y, panels, spots, is_height) in enumerate(models):
    for row, data in enumerate(panels):
        ax = fig.add_axes([COL_LEFT[col] / W, 1 - (ROW_TOP[row] + ROW_HEIGHT) / H,
                           COL_WIDTH / W, ROW_HEIGHT / H])
        cf = plot_panel(ax, y, data, 'Reff,  %s,  INJat%s' % (name, injections[row]), spots[row], is_height)
        if col == 0 and cesm_corner[row] is not None:
            lat_edge, p_edge = cesm_corner[row]
            ax.add_patch(Rectangle((-90, 1), lat_edge + 90, p_edge - 1, facecolor='white',
                                   edgecolor='none', zorder=5))

# colour bar along the bottom, the axes holds the two end arrows as well
cax = fig.add_axes([16. / W, 1 - 2702. / H, 2031. / W, 50. / H])
cb = fig.colorbar(cf, cax=cax, orientation='horizontal', ticks=levels, drawedges=True,
                  extendfrac=0.077, spacing='uniform')
cb.outline.set_linewidth(2.6)
cb.dividers.set_linewidth(2)
cb.ax.minorticks_off()
cb.ax.tick_params(length=0, pad=6, labelsize=33)
cb.ax.set_xticklabels(['%g' % v for v in levels])
fig.text(1052. / W, 1 - 2768. / H, '[10$^{-6}$ m]', fontsize=33, fontweight='bold',
         ha='center', va='center')

plt.savefig('out.png', dpi=100)
